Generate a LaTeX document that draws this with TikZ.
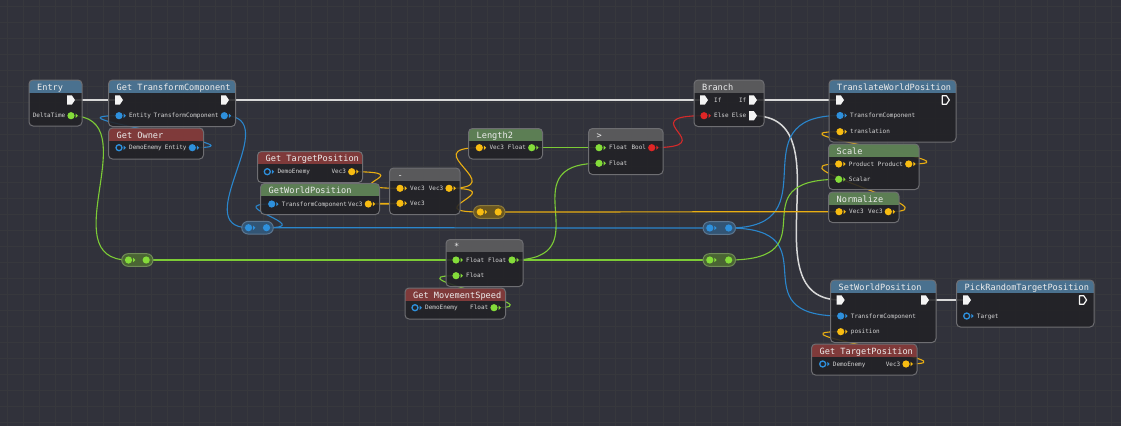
\documentclass[tikz,border=0pt]{standalone}
\usepackage{fontspec}
\newfontfamily\ttlfont{DejaVu Sans Mono}
\newfontfamily\lblfont{DejaVu Sans Mono}
\usetikzlibrary{calc}
\definecolor{bgc}{HTML}{31323B}
\definecolor{gridc}{HTML}{37383D}
\definecolor{bodyc}{HTML}{222226}
\definecolor{borderc}{HTML}{6E6E72}
\definecolor{hblue}{HTML}{4E7898}
\definecolor{hred}{HTML}{873C3C}
\definecolor{hgreen}{HTML}{618658}
\definecolor{hgray}{HTML}{5E5E60}
\definecolor{pblue}{HTML}{2E90DC}
\definecolor{pgreen}{HTML}{84DC3A}
\definecolor{pyellow}{HTML}{F8BC12}
\definecolor{pred}{HTML}{E02626}
\definecolor{pwhite}{HTML}{F4F4F4}
\definecolor{wexec}{HTML}{D8D8D8}
\definecolor{wblue}{HTML}{2A86CC}
\definecolor{wgreen}{HTML}{7CCB36}
\definecolor{wyellow}{HTML}{E9AE12}
\definecolor{wred}{HTML}{D42A2A}
\definecolor{txtc}{HTML}{D6D6D6}
\definecolor{ttlc}{HTML}{EDEDED}
\definecolor{rbfill}{HTML}{33587A}
\definecolor{rbdraw}{HTML}{5B7690}
\definecolor{ryfill}{HTML}{6E5A1E}
\definecolor{rydraw}{HTML}{8C7A3A}
\definecolor{rgfill}{HTML}{4D6A33}
\definecolor{rgdraw}{HTML}{6F8C55}
\pgfdeclarelayer{bgl}
\pgfdeclarelayer{wires}
\pgfsetlayers{bgl,wires,main}
\tikzset{
  wire/.style={line width=1.1pt},
  execwire/.style={line width=1.5pt, draw=wexec},
  ttl/.style={font=\fontsize{8.6}{10}\selectfont\ttlfont, text=ttlc, inner sep=0pt, anchor=base west},
  lbl/.style={font=\fontsize{6}{7}\selectfont\lblfont, text=txtc, inner sep=0pt},
  nbody/.style={fill=bodyc, fill opacity=.88},
  nborder/.style={draw=borderc, line width=1pt},
}
% graph node box: name x1 y1 x2 y2 headercolor title
\newcommand\gbox[7]{%
  \fill[nbody, rounded corners=4pt] (#2,#3) rectangle (#4,#5);
  \begin{scope}
    \clip[rounded corners=4pt] (#2,#3) rectangle (#4,#5);
    \fill[#6, fill opacity=.92] (#2,#3) rectangle (#4,{#3+12.5});
  \end{scope}
  \draw[nborder, rounded corners=4pt] (#2,#3) rectangle (#4,#5);
  \node[ttl] (#1) at ({#2+8},{#3+10.2}) {#7};
}
\newcommand\pintri[3]{\fill[#3] ({#1+4.6},{#2-2.2}) -- ({#1+4.6},{#2+2.2}) -- ({#1+6.8},#2) -- cycle;}
% input pin (filled)
\newcommand\ipin[5]{%
  \coordinate (#1) at (#2,#3);
  \fill[#4] (#1) circle (3.6pt);
  \pintri{#2}{#3}{#4}
  \node[lbl, anchor=base west] (#1l) at ({#2+10},{#3+2.2}) {#5};
}
% output pin (filled)
\newcommand\opin[5]{%
  \coordinate (#1) at (#2,#3);
  \fill[#4] (#1) circle (3.6pt);
  \pintri{#2}{#3}{#4}
  \node[lbl, anchor=base east] (#1l) at ({#2-5.5},{#3+2.2}) {#5};
}
% hollow input pin
\newcommand\hpin[5]{%
  \coordinate (#1) at (#2,#3);
  \draw[#4, line width=1.3pt] (#1) circle (3pt);
  \pintri{#2}{#3}{#4}
  \node[lbl, anchor=base west] (#1l) at ({#2+10},{#3+2.2}) {#5};
}
% exec pin
\newcommand\xpin[3]{%
  \coordinate (#1) at (#2,#3);
  \fill[pwhite] ({#2-4},{#3-4.7}) -- ({#2+0.8},{#3-4.7}) -- ({#2+4},#3) -- ({#2+0.8},{#3+4.7}) -- ({#2-4},{#3+4.7}) -- cycle;
}
\newcommand\hxpin[3]{%
  \coordinate (#1) at (#2,#3);
  \draw[pwhite, line width=1.2pt, line join=round] ({#2-3.5},{#3-4.2}) -- ({#2+0.8},{#3-4.2}) -- ({#2+3.6},#3) -- ({#2+0.8},{#3+4.2}) -- ({#2-3.5},{#3+4.2}) -- cycle;
}
% reroute pill: name x1 x2 y fill border pincolor
\newcommand\pill[7]{%
  \fill[#5, fill opacity=.92, rounded corners=6.3pt] (#2,{#4-6.3}) rectangle (#3,{#4+6.3});
  \draw[#6, line width=1pt, rounded corners=6.3pt] (#2,{#4-6.3}) rectangle (#3,{#4+6.3});
  \coordinate (#1in) at ({#2+6.8},#4);
  \coordinate (#1out) at ({#3-6.8},#4);
  \fill[#7] (#1in) circle (3.6pt);
  \pintri{#2+6.8}{#4}{#7}
  \fill[#7] (#1out) circle (3.6pt);
}
% wire from output pin to input pin, tangent length 50 + |dx|/2
\newcommand\wire[3]{\draw[wire,#1] let \p1=(#2), \p2=(#3), \n1={50+0.5*abs(\x2-\x1)} in (\p1) .. controls +(\n1,0) and +(-\n1,0) .. (\p2);}
\newcommand\xwire[2]{\draw[execwire] let \p1=(#1), \p2=(#2), \n1={50+0.5*abs(\x2-\x1)} in (\p1) .. controls +(\n1,0) and +(-\n1,0) .. (\p2);}

\begin{document}
\begin{tikzpicture}[x=1pt,y=-1pt]
\useasboundingbox (0,0) rectangle (1121,426);
\begin{pgfonlayer}{bgl}
  \fill[bgc] (0,0) rectangle (1121,426);
  \foreach \i in {0,...,69} \draw[gridc, line width=.7pt] ({7+16*\i},0) -- ({7+16*\i},426);
  \foreach \j in {0,...,26} \draw[gridc, line width=.7pt] (0,{6+16*\j}) -- (1121,{6+16*\j});
\end{pgfonlayer}

% ---- nodes ----
\gbox{entry}{29}{80}{82}{126}{hblue}{Entry}
\xpin{entryX}{71}{100}
\opin{entryDT}{71}{115.7}{pgreen}{DeltaTime}

\gbox{gtc}{108.5}{80}{235.5}{126.5}{hblue}{Get TransformComponent}
\xpin{gtcXin}{119}{100}
\xpin{gtcXout}{225}{100}
\ipin{gtcEnt}{119}{115.7}{pblue}{Entity}
\opin{gtcTC}{224.3}{115.7}{pblue}{TransformComponent}

\gbox{gowner}{108.5}{128}{203.5}{159}{hred}{Get Owner}
\hpin{goDE}{119}{147.7}{pblue}{DemoEnemy}
\opin{goEnt}{192.3}{147.7}{pblue}{Entity}

\gbox{gtpa}{257.5}{151.5}{362.5}{182.5}{hred}{Get TargetPosition}
\hpin{gaDE}{267.3}{171.7}{pblue}{DemoEnemy}
\opin{gaV}{351.7}{171.7}{pyellow}{Vec3}

\gbox{gwp}{260.5}{183.5}{379.5}{214.5}{hgreen}{GetWorldPosition}
\ipin{gwTC}{271.7}{204}{pblue}{TransformComponent}
\opin{gwV}{368.3}{204}{pyellow}{Vec3}

\gbox{minus}{389.5}{168}{460}{214.5}{hgray}{-}
\ipin{miA}{400}{188.3}{pyellow}{Vec3}
\opin{miO}{449}{188.3}{pyellow}{Vec3}
\ipin{miB}{400}{203.3}{pyellow}{Vec3}

\gbox{len}{468.5}{128.5}{542.5}{159}{hgreen}{Length2}
\ipin{lnV}{479.3}{147.7}{pyellow}{Vec3}
\opin{lnF}{531.7}{147.7}{pgreen}{Float}

\gbox{gt}{588.5}{128.5}{663}{174.5}{hgray}{>}
\ipin{gtA}{599}{147.7}{pgreen}{Float}
\opin{gtB}{651.7}{147.7}{pred}{Bool}
\ipin{gtC}{599}{163.3}{pgreen}{Float}

\gbox{branch}{694}{80}{764}{126.5}{hgray}{Branch}
\xpin{brXin}{704}{100}
\node[lbl, anchor=base west] (brIfInl) at (714,102.2) {If};
\xpin{brIf}{753}{100}
\node[lbl, anchor=base east] (brIfl) at (746.5,102.2) {If};
\ipin{brCond}{704}{115.7}{pred}{Else}
\xpin{brElse}{753}{115.7}
\node[lbl, anchor=base east] (brElsel) at (746.5,117.9) {Else};

\gbox{twp}{829}{80}{956}{142}{hblue}{TranslateWorldPosition}
\xpin{twXin}{840}{100}
\hxpin{twXout}{945.7}{100}
\ipin{twTC}{840}{115.5}{pblue}{TransformComponent}
\ipin{twT}{840}{131.7}{pyellow}{translation}

\gbox{scale}{828.5}{144}{919}{189.5}{hgreen}{Scale}
\ipin{scP}{838.7}{164}{pyellow}{Product}
\opin{scO}{908.7}{164}{pyellow}{Product}
\ipin{scS}{838.7}{179.3}{pgreen}{Scalar}

\gbox{norm}{828.5}{192}{899}{222.5}{hgreen}{Normalize}
\ipin{nmI}{839}{211.7}{pyellow}{Vec3}
\opin{nmO}{888.3}{211.7}{pyellow}{Vec3}

\gbox{mul}{446}{239.5}{523}{286.5}{hgray}{*}
\ipin{muA}{456}{260}{pgreen}{Float}
\opin{muO}{512}{260}{pgreen}{Float}
\ipin{muB}{456}{275.7}{pgreen}{Float}

\gbox{gms}{405}{288}{505.5}{319}{hred}{Get MovementSpeed}
\hpin{gmDE}{415}{307.7}{pblue}{DemoEnemy}
\opin{gmF}{494}{307.7}{pgreen}{Float}

\gbox{swp}{830.5}{280}{936}{342.5}{hblue}{SetWorldPosition}
\xpin{swXin}{840.7}{300}
\xpin{swXout}{925}{300}
\ipin{swTC}{840.7}{316}{pblue}{TransformComponent}
\ipin{swP}{840.7}{331.7}{pyellow}{position}

\gbox{prtp}{956.5}{280}{1094}{327}{hblue}{PickRandomTargetPosition}
\xpin{prXin}{967}{300}
\hxpin{prXout}{1083}{300}
\hpin{prT}{966.7}{316}{pblue}{Target}

\gbox{gtpb}{811.5}{344}{917}{375}{hred}{Get TargetPosition}
\hpin{gbDE}{822.7}{364}{pblue}{DemoEnemy}
\opin{gbV}{906}{364}{pyellow}{Vec3}

% ---- reroute pills ----
\pill{rbA}{241.7}{273.3}{227.7}{rbfill}{rbdraw}{pblue}
\pill{ry}{473.5}{505}{212}{ryfill}{rydraw}{pyellow}
\pill{rbB}{703}{735.5}{228}{rbfill}{rbdraw}{pblue}
\pill{rgA}{121.7}{153}{260}{rgfill}{rgdraw}{pgreen}
\pill{rgB}{703}{735.5}{260}{rgfill}{rgdraw}{pgreen}

% ---- wires ----
\begin{pgfonlayer}{wires}
  \xwire{entryX}{gtcXin}
  \xwire{gtcXout}{brXin}
  \xwire{brIf}{twXin}
  \xwire{brElse}{swXin}
  \xwire{swXout}{prXin}
  \wire{wblue}{goEnt}{gtcEnt}
  \wire{wblue}{gtcTC}{rbAin}
  \wire{wblue}{rbAout}{gwTC}
  \wire{wblue}{rbAout}{rbBin}
  \wire{wblue}{rbBout}{twTC}
  \wire{wblue}{rbBout}{swTC}
  \wire{wgreen}{entryDT}{rgAin}
  \wire{wgreen}{rgAout}{muA}
  \wire{wgreen}{muO}{gtC}
  \wire{wgreen}{muO}{rgBin}
  \wire{wgreen}{rgBout}{scS}
  \wire{wgreen}{gmF}{muB}
  \wire{wgreen}{lnF}{gtA}
  \wire{wred}{gtB}{brCond}
  \wire{wyellow}{gaV}{miA}
  \wire{wyellow}{gwV}{miB}
  \wire{wyellow}{miO}{lnV}
  \wire{wyellow}{miO}{ryin}
  \wire{wyellow}{ryout}{nmI}
  \wire{wyellow}{nmO}{scP}
  \wire{wyellow}{scO}{twT}
  \wire{wyellow}{gbV}{swP}
\end{pgfonlayer}
\end{tikzpicture}
\end{document}
